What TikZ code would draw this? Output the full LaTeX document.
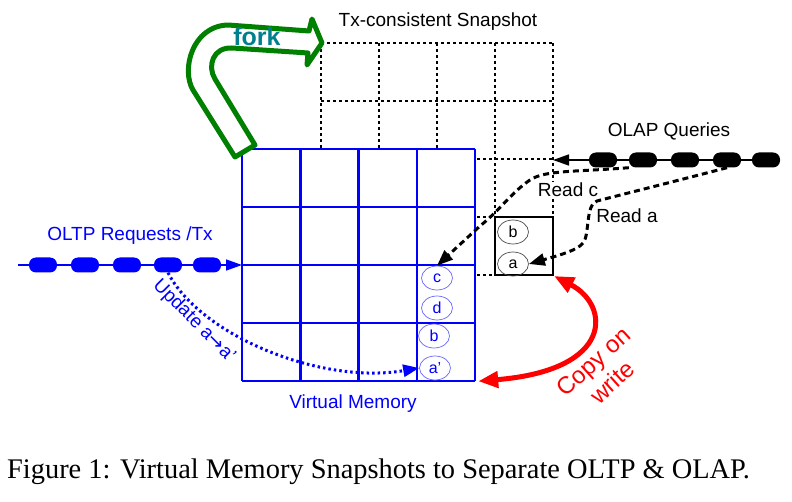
\documentclass[tikz,border=0pt]{standalone}
\usepackage{fontspec}
\setmainfont{Liberation Sans}
\newfontfamily\capfont{Liberation Serif}
\newfontfamily\arrowfont{DejaVu Sans}
\usetikzlibrary{arrows.meta,shapes.geometric}
\definecolor{forkgreen}{RGB}{0,128,0}
\definecolor{forkteal}{RGB}{0,128,140}
\definecolor{vmblue}{RGB}{0,0,255}
\definecolor{cowred}{RGB}{255,0,0}
\begin{document}
\begin{tikzpicture}[x=1pt,y=-1pt,
  lbl/.style={font=\fontsize{19}{22}\selectfont, inner sep=0pt},
  snapline/.style={line width=1.8pt, dash pattern=on 3pt off 3pt},
  vmline/.style={vmblue, line width=2.5pt},
  pill/.style={rounded corners=7pt, minimum width=28pt, minimum height=15pt, inner sep=0pt},
  cell/.style={ellipse, draw, line width=0.7pt, minimum width=31pt, minimum height=24pt, inner sep=0pt, font=\fontsize{16}{18}\selectfont},
  readarrow/.style={line width=3pt, dash pattern=on 6pt off 4pt, -{Triangle[length=16pt,width=12pt]}},
  updarrow/.style={vmblue, line width=3pt, dash pattern=on 2.5pt off 3pt, -{Triangle[length=16pt,width=12pt]}},
  cowarrow/.style={cowred, line width=5pt, {Triangle[length=20pt,width=16pt]}-{Triangle[length=20pt,width=16pt]}},
  forkshape/.style={forkgreen, line width=5pt, line join=round, fill=white}
]
\useasboundingbox (0,0) rectangle (792,502);
\fill[white] (0,0) rectangle (792,502);

% snapshot grid (dotted)
\node[minimum width=232pt, minimum height=232pt, inner sep=0pt] (snap) at (437,159) {};
\foreach \i in {0,...,4} {
  \draw[snapline] (321+58*\i,43) -- (321+58*\i,275);
  \draw[snapline] (321,43+58*\i) -- (553,43+58*\i);
}
\node[lbl] (snaplbl) at (438,22) {Tx-consistent Snapshot};

% copied page in snapshot
\node[draw, line width=2pt, minimum width=58pt, minimum height=58pt, inner sep=0pt, fill=white] (snapbox) at (524,246) {};
\node[cell, draw=black!70] (sb) at (513,232) {b};
\node[cell, draw=black!70] (sa) at (513,264) {a};

% virtual memory grid
\node[minimum width=233pt, minimum height=232pt, inner sep=0pt] (vm) at (358.5,265) {};
\fill[white] (242,149) rectangle (475,381);
\foreach \i in {0,...,4} {
  \draw[vmline] (242+58.25*\i,149) -- (242+58.25*\i,381);
  \draw[vmline] (242,149+58*\i) -- (475,149+58*\i);
}
\node[lbl, text=vmblue] (vmlbl) at (353,404) {Virtual Memory};
\node[cell, draw=vmblue!60, text=vmblue] (vc) at (437,278) {c};
\node[cell, draw=vmblue!60, text=vmblue] (vd) at (437,308) {d};
\node[cell, draw=vmblue!60, text=vmblue] (vb) at (434,336) {b};
\node[cell, draw=vmblue!60, text=vmblue] (vap) at (435,368) {a'};

% fork arrow
\draw[forkshape] (235,157) -- (193,90) .. controls (181,70) and (192,26) .. (228,25)
  -- (309,31) -- (312,19) -- (322,43) -- (307,65) -- (308,53)
  -- (232,48) .. controls (213,47) and (207,66) .. (215,79) -- (255,145) -- cycle;
\node[font=\fontsize{25}{28}\selectfont\bfseries, text=forkteal, inner sep=0pt] (forklbl) at (257,37) {fork};

% OLTP requests
\coordinate (oltpS) at (18,265);
\coordinate (oltpE) at (242,265);
\draw[vmblue, line width=1.5pt, -{Triangle[length=16pt,width=11pt]}] (oltpS) -- (oltpE);
\foreach \x/\n in {43/t1,85/t2,127/t3,168/t4,207/t5}
  \node[pill, fill=vmblue] (\n) at (\x,265) {};
\node[lbl, text=vmblue] (oltplbl) at (130,236) {OLTP Requests /Tx};

% update arrow
\draw[updarrow] (t4.south) .. controls (200,335) and (320,385) .. (vap.west);
\node[lbl, text=vmblue, rotate=-45] (updlbl) at (194,321) {Update a{\arrowfont →}a'};

% OLAP queries
\coordinate (olapS) at (778,160);
\coordinate (olapE) at (553,160);
\draw[line width=1.5pt, -{Triangle[length=16pt,width=11pt]}] (olapS) -- (olapE);
\foreach \x/\n in {603/o1,643/o2,685/o3,727/o4,766/o5}
  \node[pill, fill=black] (\n) at (\x,160) {};
\node[lbl] (olaplbl) at (669,131) {OLAP Queries};

% read arrows
\draw[readarrow] (o2.south west) .. controls (575,172) and (545,170) .. (530,180)
  .. controls (512,192) and (500,210) .. (480,226) -- (vc.north);
\node[lbl, fill=white, inner sep=1pt] (readc) at (568,190) {Read c};
\draw[readarrow] (o4.south) .. controls (680,180) and (620,195) .. (597,201)
  .. controls (585,205) and (590,235) .. (583,243)
  .. controls (578,250) and (560,255) .. (sa.east);
\node[lbl, fill=white, inner sep=1pt] (reada) at (627,216) {Read a};

% copy on write
\draw[cowarrow] (snapbox.south east) .. controls (610,305) and (615,370) .. ([xshift=3pt]vm.south east);
\node[font=\fontsize{24}{28}\selectfont, text=cowred, rotate=42, align=center, inner sep=0pt] (cowlbl) at (603,372) {Copy on\\write};

% caption
\node[anchor=base west, font=\capfont\fontsize{28.4}{31}\selectfont, inner sep=0pt] (caption) at (7,478) {Figure 1: Virtual Memory Snapshots to Separate OLTP \& OLAP.};
\end{tikzpicture}
\end{document}
